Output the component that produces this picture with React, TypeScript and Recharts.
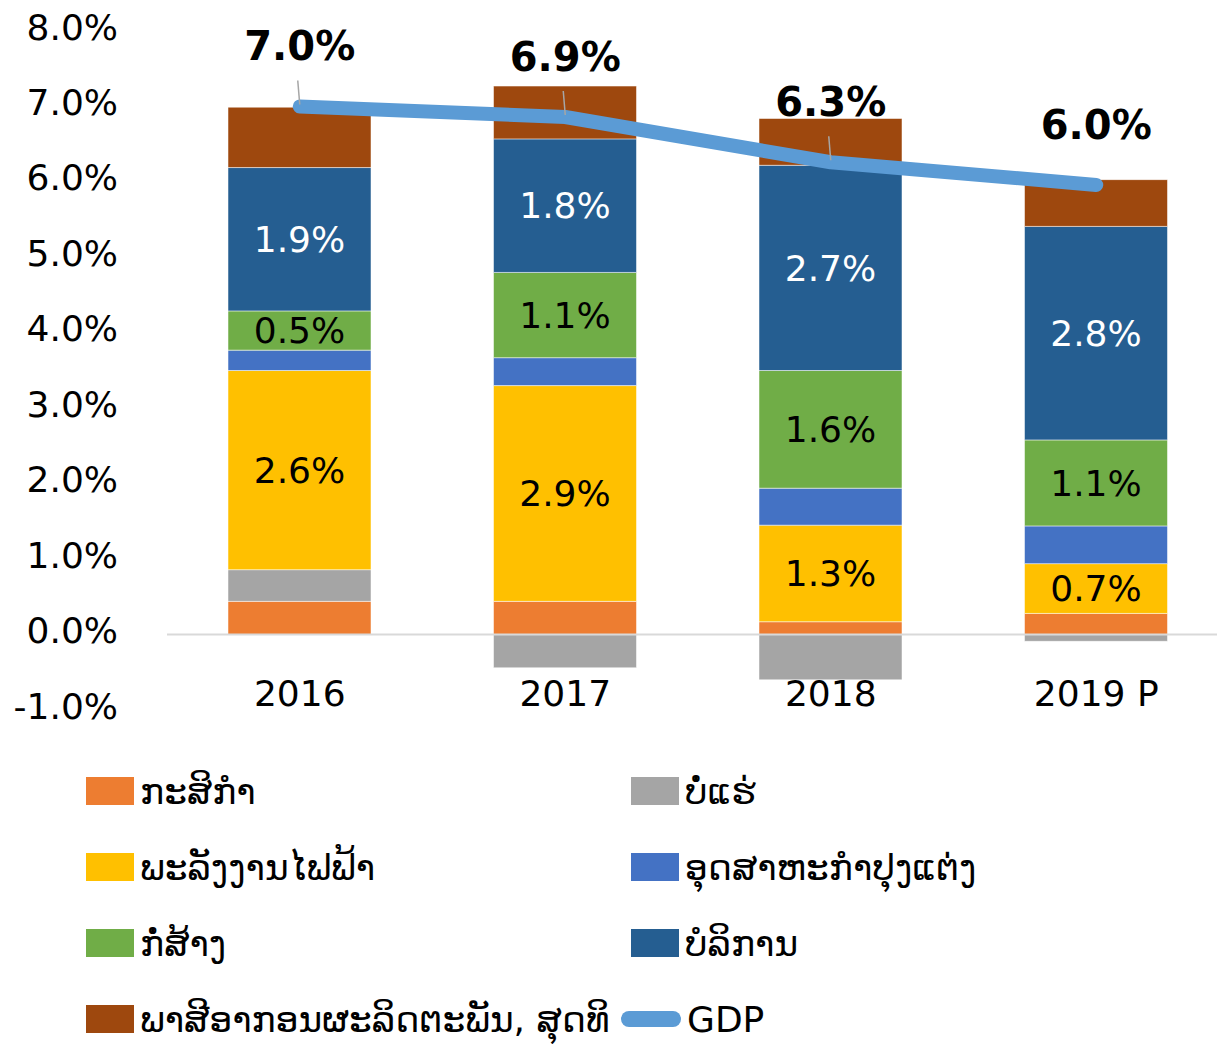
import {
  ComposedChart,
  Bar,
  Line,
  XAxis,
  YAxis,
  LabelList,
  ReferenceLine,
} from 'recharts';

// ---------------------------------------------------------------------------
// Data (contribution to GDP growth, percentage points)
// ---------------------------------------------------------------------------
const YEARS = ['2016', '2017', '2018', '2019 P'];

const AGRICULTURE = [0.44, 0.44, 0.17, 0.28];
const MINING = [0.42, -0.44, -0.6, -0.09];
const POWER = [2.64, 2.86, 1.28, 0.66];
const MANUFACTURING = [0.27, 0.37, 0.49, 0.5];
const CONSTRUCTION = [0.52, 1.13, 1.56, 1.14];
const SERVICES = [1.9, 1.77, 2.72, 2.83];
const TAXES = [0.8, 0.7, 0.62, 0.62];
const GDP = [7.0, 6.86, 6.26, 5.96];

const Y_TICKS = [-1, 0, 1, 2, 3, 4, 5, 6, 7, 8];

// ---------------------------------------------------------------------------
// Styling
// ---------------------------------------------------------------------------
const FONT = '"DejaVu Sans", Verdana, sans-serif';
const GDP_COLOR = '#5B9BD5';

interface SeriesDef {
  key: string;
  name: string;
  color: string;
  values: number[];
  labelFill?: string;
}

const SERIES: SeriesDef[] = [
  { key: 'agri', name: 'ກະສິກຳ', color: '#ED7D31', values: AGRICULTURE },
  { key: 'mining', name: 'ບໍ່ແຮ່', color: '#A5A5A5', values: MINING },
  { key: 'power', name: 'ພະລັງງານໄຟຟ້າ', color: '#FFC000', values: POWER, labelFill: '#000' },
  { key: 'manuf', name: 'ອຸດສາຫະກຳປຸງແຕ່ງ', color: '#4472C4', values: MANUFACTURING },
  { key: 'constr', name: 'ກໍ່ສ້າງ', color: '#70AD47', values: CONSTRUCTION, labelFill: '#000' },
  { key: 'services', name: 'ບໍລິການ', color: '#255E91', values: SERVICES, labelFill: '#fff' },
  { key: 'tax', name: 'ພາສີອາກອນຜະລິດຕະພັນ, ສຸດທິ', color: '#9E480E', values: TAXES },
];

const chartData = YEARS.map((year, i) => {
  const row: Record<string, string | number> = { year, gdp: GDP[i] };
  SERIES.forEach((s) => {
    row[s.key] = s.values[i];
  });
  return row;
});

const pct = (v: number) => `${Number(v).toFixed(1)}%`;

// ---------------------------------------------------------------------------
// Custom ticks / labels
// ---------------------------------------------------------------------------
function YTick({ y, payload }: any) {
  return (
    <text
      x={118}
      y={y - 4}
      textAnchor="end"
      dominantBaseline="central"
      fontSize={36}
      fontFamily={FONT}
      fill="#000"
    >
      {pct(payload.value)}
    </text>
  );
}

function XTick({ x, y, payload }: any) {
  return (
    <text
      x={x}
      y={y - 25}
      textAnchor="middle"
      dominantBaseline="central"
      fontSize={36}
      fontFamily={FONT}
      fill="#000"
    >
      {payload.value}
    </text>
  );
}

function GdpLabel({ x, y, value, index }: any) {
  return (
    <g>
      {index < YEARS.length - 1 && (
        <line x1={x - 2} y1={y - 26} x2={x} y2={y - 2} stroke="#A6A6A6" strokeWidth={1.5} />
      )}
      <text
        x={x}
        y={y - 60}
        textAnchor="middle"
        dominantBaseline="central"
        fontSize={40}
        fontWeight="bold"
        fontFamily={FONT}
        fill="#000"
      >
        {pct(value)}
      </text>
    </g>
  );
}

// ---------------------------------------------------------------------------
// Legend (two columns, HTML)
// ---------------------------------------------------------------------------
function ChartLegend() {
  const items = [
    ...SERIES.map((s) => ({ name: s.name, color: s.color, line: false })),
    { name: 'GDP', color: GDP_COLOR, line: true },
  ];
  return (
    <div
      style={{
        position: 'absolute',
        left: 86,
        top: 753,
        display: 'grid',
        gridTemplateColumns: '545px 500px',
        gridAutoRows: '76px',
        fontFamily: FONT,
        fontSize: 36,
        color: '#000',
      }}
    >
      {items.map((it) => (
        <div key={it.name} style={{ display: 'flex', alignItems: 'center', whiteSpace: 'nowrap' }}>
          {it.line ? (
            <div
              style={{
                width: 60,
                height: 16,
                borderRadius: 8,
                background: it.color,
                marginLeft: -10,
                marginRight: 6,
              }}
            />
          ) : (
            <div style={{ width: 48, height: 28, background: it.color, marginRight: 6 }} />
          )}
          <span>{it.name}</span>
        </div>
      ))}
    </div>
  );
}

// ---------------------------------------------------------------------------
// App
// ---------------------------------------------------------------------------
export default function App() {
  return (
    <div
      style={{
        position: 'absolute',
        left: 0,
        top: 0,
        width: 1217,
        height: 1044,
        overflow: 'hidden',
        background: '#fff',
        fontFamily: FONT,
      }}
    >
      <ComposedChart
        width={1229}
        height={760}
        data={chartData}
        stackOffset="sign"
        barCategoryGap={0}
        margin={{ top: 31, right: 0, bottom: 20, left: 0 }}
      >
        <XAxis
          dataKey="year"
          axisLine={false}
          tickLine={false}
          height={30}
          tick={<XTick />}
          interval={0}
        />
        <YAxis
          domain={[-1, 8]}
          ticks={Y_TICKS}
          width={167}
          axisLine={false}
          tickLine={false}
          tick={<YTick />}
          interval={0}
          allowDataOverflow
        />
        <ReferenceLine y={0} stroke="#D9D9D9" strokeWidth={2} />
        {SERIES.map((s) => (
          <Bar
            key={s.key}
            dataKey={s.key}
            name={s.name}
            stackId="gdp"
            fill={s.color}
            barSize={143}
            stroke="#ffffff"
            strokeOpacity={0.5}
            strokeWidth={1}
            isAnimationActive={false}
          >
            {s.labelFill && (
              <LabelList
                dataKey={s.key}
                position="center"
                formatter={(v: any) => pct(v)}
                fill={s.labelFill}
                fontSize={36}
                fontFamily={FONT}
              />
            )}
          </Bar>
        ))}
        <Line
          dataKey="gdp"
          name="GDP"
          type="linear"
          stroke={GDP_COLOR}
          strokeWidth={14}
          strokeLinecap="round"
          strokeLinejoin="round"
          dot={false}
          activeDot={false}
          isAnimationActive={false}
        >
          <LabelList dataKey="gdp" content={<GdpLabel />} />
        </Line>
      </ComposedChart>
      <ChartLegend />
    </div>
  );
}
